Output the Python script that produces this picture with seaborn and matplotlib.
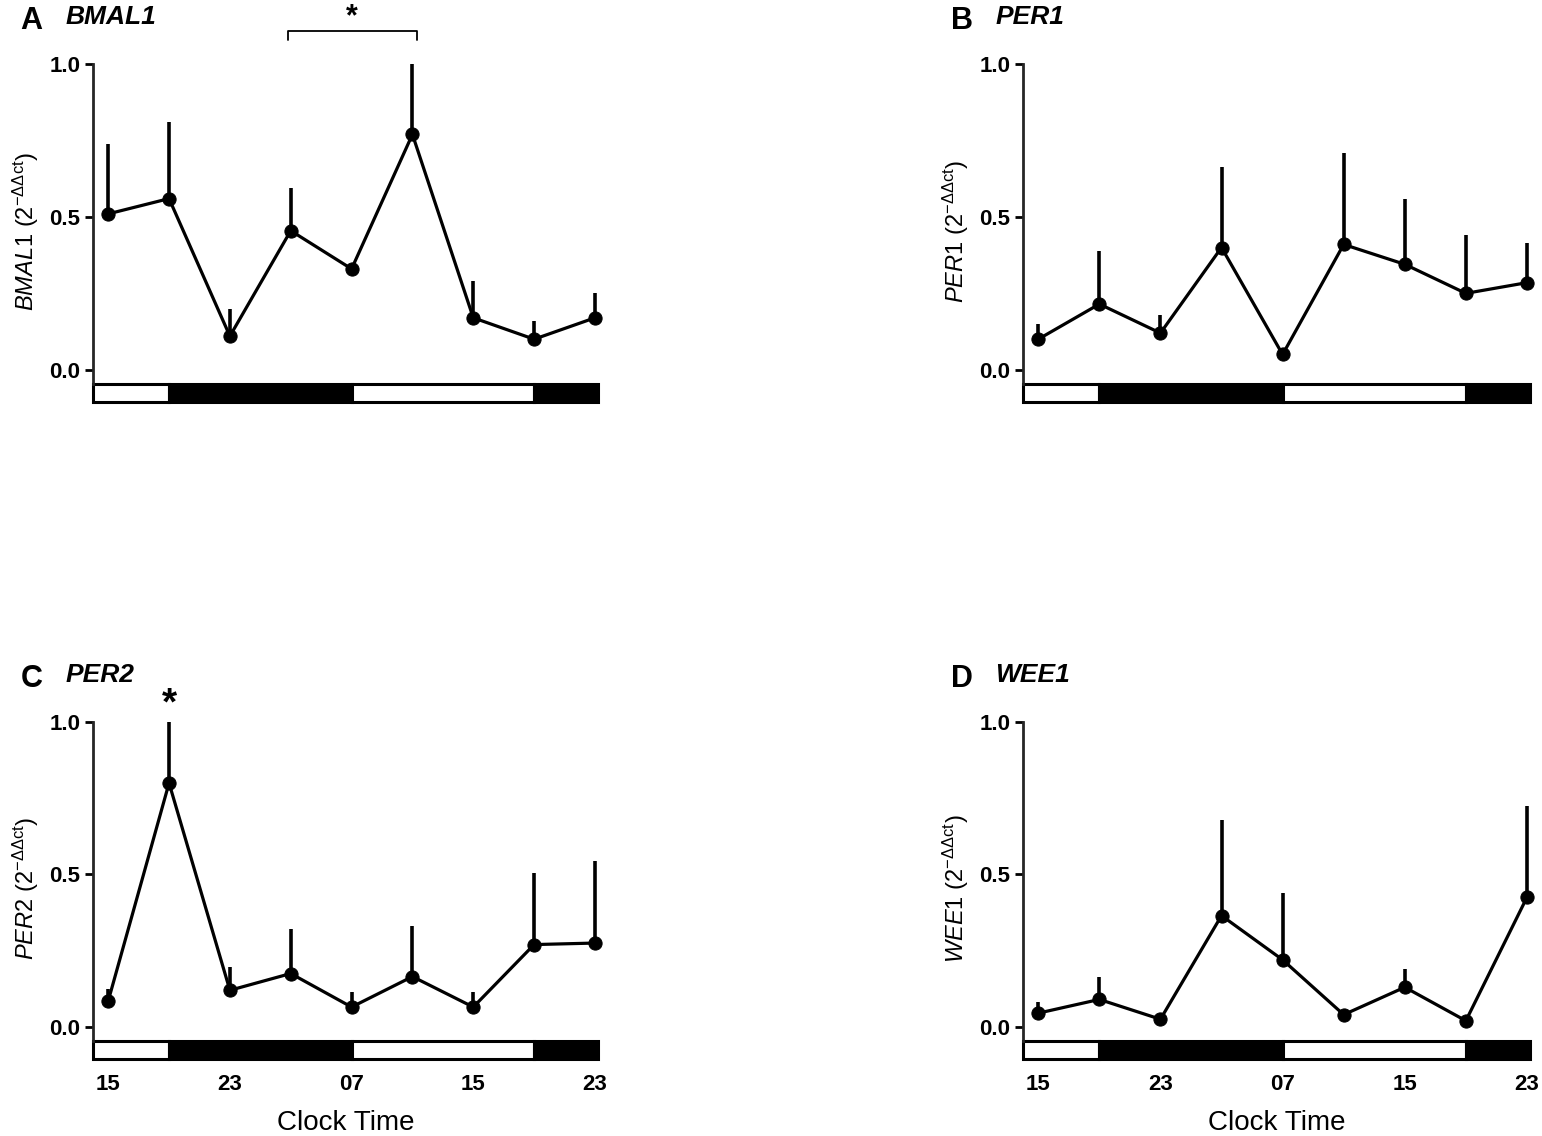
import numpy as np
import matplotlib
matplotlib.use("Agg")
import matplotlib.pyplot as plt
import seaborn as sns
from matplotlib.patches import Rectangle

# sampling times (hours after 15:00) and clock labels
hours = [0, 4, 8, 12, 16, 20, 24, 28, 32]
tick_hours = [0, 8, 16, 24, 32]
tick_labels = ["15", "23", "07", "15", "23"]

# light/dark schedule (start, end, is_dark)
light_dark = [(-1.0, 4, False), (4, 16, True), (16, 28, False), (28, 32.2, True)]

bmal1_mean = [0.51, 0.56, 0.11, 0.455, 0.33, 0.77, 0.17, 0.10, 0.17]
bmal1_sem = [0.23, 0.25, 0.09, 0.14, 0.01, 0.23, 0.12, 0.06, 0.08]
per1_mean = [0.10, 0.215, 0.12, 0.40, 0.05, 0.41, 0.345, 0.25, 0.285]
per1_sem = [0.05, 0.175, 0.06, 0.265, 0.02, 0.30, 0.215, 0.19, 0.13]
per2_mean = [0.085, 0.80, 0.12, 0.175, 0.065, 0.165, 0.065, 0.27, 0.275]
per2_sem = [0.04, 0.20, 0.075, 0.145, 0.05, 0.165, 0.05, 0.235, 0.27]
wee1_mean = [0.045, 0.09, 0.025, 0.365, 0.22, 0.04, 0.13, 0.02, 0.425]
wee1_sem = [0.035, 0.075, 0.0, 0.315, 0.22, 0.0, 0.06, 0.0, 0.30]

sns.set_style("white")
plt.rcParams['font.family'] = ['Liberation Sans', 'DejaVu Sans']
plt.rcParams['mathtext.fontset'] = 'custom'
plt.rcParams['mathtext.rm'] = 'Liberation Sans'
plt.rcParams['mathtext.it'] = 'Liberation Sans:italic'
plt.rcParams['mathtext.bf'] = 'Liberation Sans:bold'
for k in ['text.color', 'axes.labelcolor', 'xtick.color', 'ytick.color']:
    plt.rcParams[k] = 'black'

fig = plt.figure(figsize=(15.42, 11.36), dpi=100)

W, H = 1542, 1136
def ax_rect(x0, x1, ytop, ybot):
    return [x0 / W, 1 - ybot / H, (x1 - x0) / W, (ybot - ytop) / H]

panels = [
    ("A", "BMAL1", bmal1_mean, bmal1_sem, ax_rect(93, 598, 58, 404), False),
    ("B", "PER1", per1_mean, per1_sem, ax_rect(1023, 1530, 58, 404), False),
    ("C", "PER2", per2_mean, per2_sem, ax_rect(93, 598, 716, 1061), True),
    ("D", "WEE1", wee1_mean, wee1_sem, ax_rect(1023, 1530, 716, 1061), True),
]

axes = {}
for letter, gene, mean, sem, rect, bottom in panels:
    ax = fig.add_axes(rect)
    axes[letter] = ax
    ax.errorbar(hours, mean, yerr=[np.zeros(len(sem)), sem], fmt='none',
                ecolor='black', elinewidth=2.6, capsize=0, zorder=2,
                clip_on=False)
    sns.lineplot(x=hours, y=mean, ax=ax, color='black', linewidth=2.3,
                 marker='o', markersize=9.5, markeredgecolor='black',
                 zorder=3, clip_on=False)
    ax.set_xlim(-1.0, 32.2)
    ax.set_ylim(-0.112, 1.02)
    ax.set_yticks([0.0, 0.5, 1.0])
    ax.set_yticklabels(["0.0", "0.5", "1.0"], fontsize=16, fontweight='bold')
    ax.tick_params(axis='y', direction='out', length=6, width=2, left=True, pad=3)
    ax.tick_params(axis='x', length=0)
    for s in ['top', 'right', 'bottom']:
        ax.spines[s].set_visible(False)
    ax.spines['left'].set_linewidth(2)
    ax.spines['left'].set_bounds(-0.045, 1.0)

    # light/dark bar under the axis
    for x0, x1, dark in light_dark:
        ax.add_patch(Rectangle((x0, -0.105), x1 - x0, 0.06,
                               facecolor='black' if dark else 'white',
                               edgecolor='black', linewidth=2.2, clip_on=False))

    ax.set_ylabel(r"$\mathit{%s}$ (2$^{-\Delta\Delta \mathrm{ct}}$)" % gene,
                  fontsize=17, labelpad=6)

    if bottom:
        ax.set_xticks(tick_hours)
        ax.set_xticklabels(tick_labels, fontsize=16, fontweight='bold')
        ax.tick_params(axis='x', pad=9)
        ax.set_xlabel("Clock Time", fontsize=20, labelpad=11)
    else:
        ax.set_xticks([])

    p = ax.get_position()
    ty = p.y1 + 0.033
    fig.text(p.x0 - 0.047, ty, letter, fontsize=22, fontweight='bold',
             va='center', ha='left')
    fig.text(p.x0 - 0.018, ty + 0.003, gene, fontsize=19, fontweight='bold',
             style='italic', va='center', ha='left')

# significance marks
axA = axes["A"]
axA.plot([11.8, 11.8, 20.3, 20.3], [1.08, 1.108, 1.108, 1.08], color='black',
         linewidth=1.3, clip_on=False)
axA.text(16.0, 1.105, "*", fontsize=22, fontweight='bold', ha='center',
         va='bottom')
axC = axes["C"]
axC.text(4.0, 1.0, "*", fontsize=28, fontweight='bold', ha='center',
         va='bottom')

fig.savefig("out.png", dpi=100)
